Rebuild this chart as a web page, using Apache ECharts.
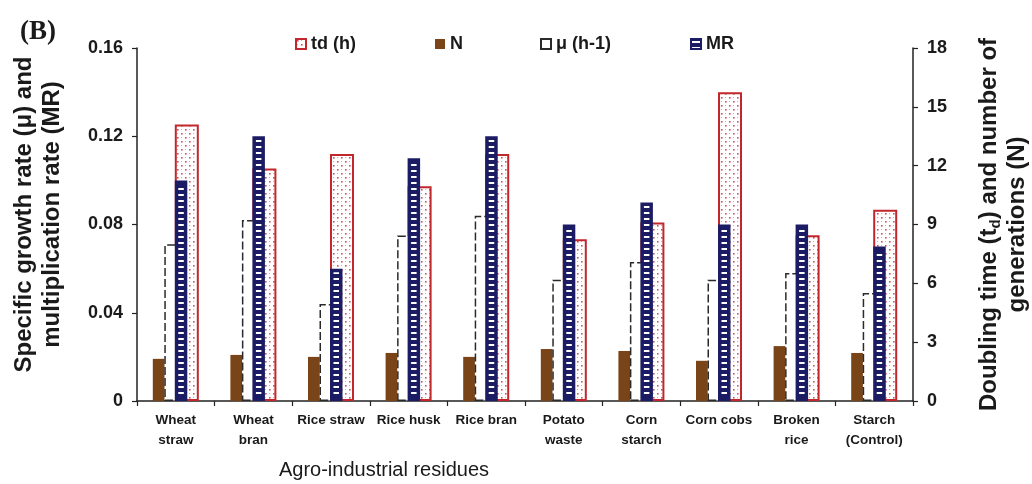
<!DOCTYPE html>
<html>
<head>
<meta charset="utf-8">
<script src="https://cdn.jsdelivr.net/npm/echarts@6/dist/echarts.min.js"></script>
<style>
html,body{margin:0;padding:0;background:#fff;}
#chart{width:1032px;height:484px;}
</style>
</head>
<body>
<div id="chart"></div>
<script>
// ---- data ----
const categories = ['Wheat\nstraw','Wheat\nbran','Rice straw','Rice husk','Rice bran','Potato\nwaste','Corn\nstarch','Corn cobs','Broken\nrice','Starch\n(Control)'];
const tdHours = [14.1, 11.85, 12.6, 10.95, 12.6, 8.25, 9.1, 15.75, 8.45, 9.75];
const nGenerations = [2.15, 2.35, 2.25, 2.45, 2.25, 2.65, 2.55, 2.05, 2.8, 2.45];
const muRate = [0.071, 0.082, 0.044, 0.075, 0.084, 0.055, 0.063, 0.055, 0.058, 0.049];
const mrRate = [0.10, 0.12, 0.06, 0.11, 0.12, 0.08, 0.09, 0.08, 0.08, 0.07];
const leftTicks = ['0', '0.04', '0.08', '0.12', '0.16'];
const rightTicks = ['0', '3', '6', '9', '12', '15', '18'];

// ---- styles ----
const NAVY = '#1b1c63';
const BROWN = '#7a4419';
const RED = '#c1272d';
const TXT = '#1a1a1a';
const NARROW = "'Liberation Sans Narrow','Arial Narrow','Liberation Sans',Arial,sans-serif";
const SANS = "'Liberation Sans',Arial,sans-serif";

function mrPattern(){
  const c = document.createElement('canvas'); c.width = 4; c.height = 6;
  const g = c.getContext('2d');
  g.fillStyle = NAVY; g.fillRect(0,0,4,6);
  g.fillStyle = '#ffffff'; g.fillRect(0,2,4,2);
  return c;
}
function tdPattern(){
  const c = document.createElement('canvas'); c.width = 8; c.height = 8;
  const g = c.getContext('2d');
  g.fillStyle = '#ffffff'; g.fillRect(0,0,8,8);
  g.fillStyle = '#c9555a';
  g.fillRect(1,1,1.6,1.6); g.fillRect(5,5,1.6,1.6);
  g.fillStyle = '#e3a3a5';
  g.fillRect(5,1,1,1); g.fillRect(1,5,1,1);
  return c;
}

const chart = echarts.init(document.getElementById('chart'), null, {renderer:'canvas'});
const legendBase = {
  orient:'horizontal', top:35, itemWidth:10, itemHeight:10, padding:0, icon:'rect',
  textStyle:{fontFamily:SANS, fontWeight:'bold', fontSize:18, color:TXT},
  selectedMode:false
};
const option = {
  backgroundColor:'#ffffff',
  animation:false,
  grid:{left:137, right:119, top:48, bottom:83, containLabel:false, outerBoundsMode:'none'},
  legend:[
    Object.assign({}, legendBase, {data:['td (h)'], left:295}),
    Object.assign({}, legendBase, {data:['N'], left:435}),
    Object.assign({}, legendBase, {data:['μ (h-1)'], left:540}),
    Object.assign({}, legendBase, {data:['MR'], left:690})
  ],
  graphic:[{
    type:'text', left:20, top:19,
    style:{text:'(B)', font:"bold 27px 'Liberation Serif','Times New Roman',serif", fill:TXT}
  }],
  xAxis:[{
    type:'category', data:categories, gridIndex:0,
    axisLine:{show:true, lineStyle:{color:'#222', width:1.5}},
    axisTick:{show:true, length:5, lineStyle:{color:'#222', width:1.2}},
    axisLabel:{interval:0, margin:9, fontFamily:NARROW, fontWeight:'bold', fontSize:13.5, lineHeight:20, color:TXT},
    name:'Agro-industrial residues', nameLocation:'middle', nameGap:59,
    nameTextStyle:{fontFamily:NARROW, fontSize:20, color:TXT, padding:[0,282,0,0]}
  },{
    type:'category', data:categories, gridIndex:0, show:false
  }],
  yAxis:[{
    type:'value', min:0, max:0.16, interval:0.04, position:'left',
    axisLine:{show:true, lineStyle:{color:'#222', width:1.5}},
    axisTick:{show:true, length:5, lineStyle:{color:'#222', width:1.2}},
    splitLine:{show:false},
    axisLabel:{margin:14, fontFamily:SANS, fontWeight:'bold', fontSize:18, color:TXT,
      formatter:function(v){ return leftTicks[Math.round(v/0.04)]; }},
    name:'Specific growth rate (μ) and\nmultiplication rate (MR)', nameLocation:'middle', nameRotate:90, nameGap:71,
    nameTextStyle:{fontFamily:SANS, fontWeight:'bold', fontSize:24, lineHeight:28, color:TXT, padding:[0,0,0,20]}
  },{
    type:'value', min:0, max:18, interval:3, position:'right',
    axisLine:{show:true, lineStyle:{color:'#222', width:1.5}},
    axisTick:{show:true, length:5, lineStyle:{color:'#222', width:1.2}},
    splitLine:{show:false},
    axisLabel:{margin:14, fontFamily:SANS, fontWeight:'bold', fontSize:18, color:TXT,
      formatter:function(v){ return rightTicks[Math.round(v/3)]; }},
    name:'Doubling time (t{sub|d}) and number of\ngenerations (N)', nameLocation:'middle', nameRotate:90, nameGap:62,
    nameTextStyle:{fontFamily:SANS, fontWeight:'bold', fontSize:24, lineHeight:28, color:TXT,
      rich:{sub:{fontFamily:SANS, fontWeight:'bold', fontSize:15, lineHeight:14, verticalAlign:'bottom', color:TXT}}}
  }],
  series:[{
    name:'N', type:'bar', xAxisIndex:0, yAxisIndex:1, data:nGenerations,
    barWidth:11.7, barGap:'88%',
    itemStyle:{color:BROWN}
  },{
    name:'td (h)', type:'bar', xAxisIndex:0, yAxisIndex:1, data:tdHours,
    barWidth:24, barGap:'88%',
    itemStyle:{color:{image:tdPattern(), repeat:'repeat'}, borderColor:RED, borderWidth:2}
  },{
    name:'μ (h-1)', type:'bar', xAxisIndex:1, yAxisIndex:0, data:muRate,
    barWidth:22.5, barGap:'-53.3%',
    itemStyle:{color:'#ffffff', borderColor:'#2a2a2a', borderWidth:1.5, borderType:[8,3]}
  },{
    name:'MR', type:'bar', xAxisIndex:1, yAxisIndex:0, data:mrRate,
    barWidth:12.5, barGap:'-53.3%',
    itemStyle:{color:{image:mrPattern(), repeat:'repeat'}, borderColor:NAVY, borderWidth:3.5}
  }]
};
chart.setOption(option);
</script>
</body>
</html>
